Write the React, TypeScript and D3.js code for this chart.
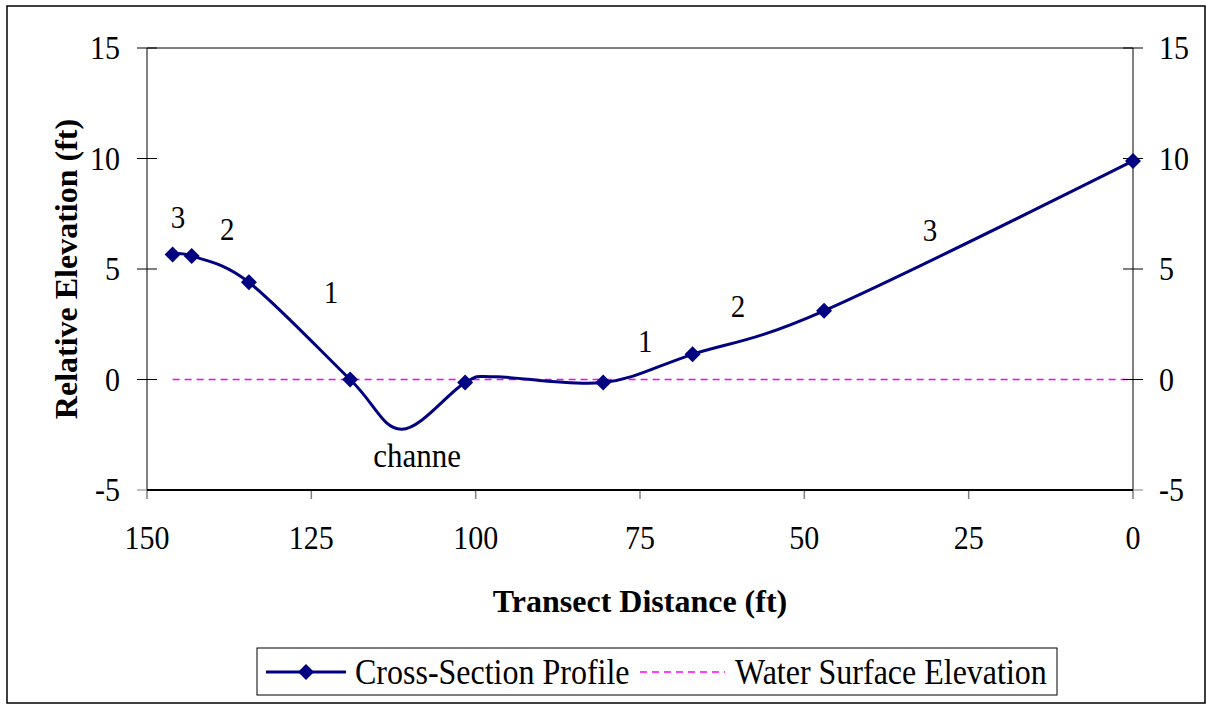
import React from "react";
import * as d3 from "d3";

// Cross-section profile (distance along transect in ft, relative elevation in ft)
const distance = [146.1, 143.2, 134.5, 119.1, 111.3, 101.6, 96.8, 80.6, 67.0, 47.0, 0];
const elevation = [5.66, 5.59, 4.4, 0.0, -2.25, -0.14, 0.12, -0.14, 1.14, 3.11, 9.89];
const hasMarker = [true, true, true, true, false, true, false, true, true, true, true];

// Water surface elevation
const waterDistance = [146.1, 0];
const waterElevation = [0, 0];

const xTicks = [150, 125, 100, 75, 50, 25, 0];
const yTicks = [-5, 0, 5, 10, 15];

// Annotations: text, distance, elevation (baseline center)
const annText = ["3", "2", "1", "channe", "1", "2", "3"];
const annDist = [145.3, 137.8, 122.0, 108.9, 74.2, 60.1, 30.9];
const annElev = [6.86, 6.31, 3.46, -3.96, 1.24, 2.83, 6.27];

const FF = '"Liberation Serif","Times New Roman",serif';
const NAVY = "#000080";
const PINK = "#FF00FF";

function T({ x, y, children, size = 30, anchor = "start", sy = 1.1, bold = false, rotate = 0 }: any) {
  return (
    <text
      transform={`translate(${x},${y}) rotate(${rotate}) scale(1,${sy})`}
      textAnchor={anchor}
      fontFamily={FF}
      fontSize={size}
      fontWeight={bold ? "bold" : "normal"}
      fill="#000"
    >
      {children}
    </text>
  );
}

const diamond = (s: number) => `M0,${-s}L${s},0L0,${s}L${-s},0Z`;

export default function App() {
  const L = 147, R = 1133, TOP = 48, B = 490;
  const x = d3.scaleLinear().domain([150, 0]).range([L, R]);
  const y = d3.scaleLinear().domain([-5, 15]).range([B, TOP]);

  const pts: [number, number][] = distance.map((d, i) => [x(d), y(elevation[i])]);
  const profilePath = d3.line().curve(d3.curveCardinal.tension(0))(pts) || "";
  const waterPath =
    d3.line()(waterDistance.map((d, i) => [x(d), y(waterElevation[i])] as [number, number])) || "";

  return (
    <div style={{ position: "absolute", left: 0, top: 0 }}>
      <svg width={1206} height={704} style={{ display: "block", background: "#fff" }}>
        <rect x={7} y={6} width={1198} height={697} fill="#fff" stroke="#000" strokeWidth={1.5} />

        {/* water surface */}
        <path d={waterPath} fill="none" stroke={PINK} strokeWidth={1.5} strokeDasharray="7,5" />

        {/* axes */}
        <line x1={L} x2={R} y1={TOP} y2={TOP} stroke="#000" strokeWidth={1} />
        <line x1={L} x2={L} y1={TOP} y2={B} stroke="#000" strokeWidth={1} />
        <line x1={R} x2={R} y1={TOP} y2={B} stroke="#000" strokeWidth={1} />
        {yTicks.map((t) => (
          <g key={"yt" + t}>
            <line x1={L - 10} x2={L + 10} y1={y(t)} y2={y(t)} stroke={t === -5 ? "#808080" : "#000"} strokeWidth={1} />
            <line x1={R - 10} x2={R + 10} y1={y(t)} y2={y(t)} stroke={t === -5 ? "#808080" : "#000"} strokeWidth={1} />
            <T x={120} y={y(t) + 11} anchor="end">{t}</T>
            <T x={1159} y={y(t) + 11} anchor="start">{t}</T>
          </g>
        ))}
        {xTicks.map((t) => (
          <g key={"xt" + t}>
            <line x1={x(t)} x2={x(t)} y1={B} y2={B + 9} stroke="#808080" strokeWidth={1.5} />
            <T x={x(t)} y={549} anchor="middle">{t}</T>
          </g>
        ))}
        <line x1={L} x2={R} y1={B} y2={B} stroke="#000" strokeWidth={2} />

        {/* profile */}
        <path d={profilePath} fill="none" stroke={NAVY} strokeWidth={3} />
        {pts.map((p, i) =>
          hasMarker[i] ? <path key={"m" + i} d={diamond(8)} transform={`translate(${p[0]},${p[1]})`} fill={NAVY} /> : null
        )}

        {/* annotations */}
        {annText.map((s, i) => (
          <T key={"a" + i} x={x(annDist[i])} y={y(annElev[i])} anchor="middle" size={s === "channe" ? 31 : 29}>
            {s}
          </T>
        ))}

        {/* axis titles */}
        <T x={640} y={612} anchor="middle" size={32} bold sy={1}>Transect Distance (ft)</T>
        <T x={77} y={269} anchor="middle" size={32} bold sy={1} rotate={-90}>Relative Elevation (ft)</T>

        {/* legend */}
        <rect x={257} y={648} width={800} height={47} fill="#fff" stroke="#000" strokeWidth={1} />
        <line x1={266} x2={346} y1={672} y2={672} stroke={NAVY} strokeWidth={3} />
        <path d={diamond(8)} transform="translate(306,672)" fill={NAVY} />
        <T x={355} y={684} size={32}>Cross-Section Profile</T>
        <line x1={640} x2={725} y1={672} y2={672} stroke={PINK} strokeWidth={1.5} strokeDasharray="7,5" />
        <T x={735} y={684} size={32}>Water Surface Elevation</T>
      </svg>
    </div>
  );
}
